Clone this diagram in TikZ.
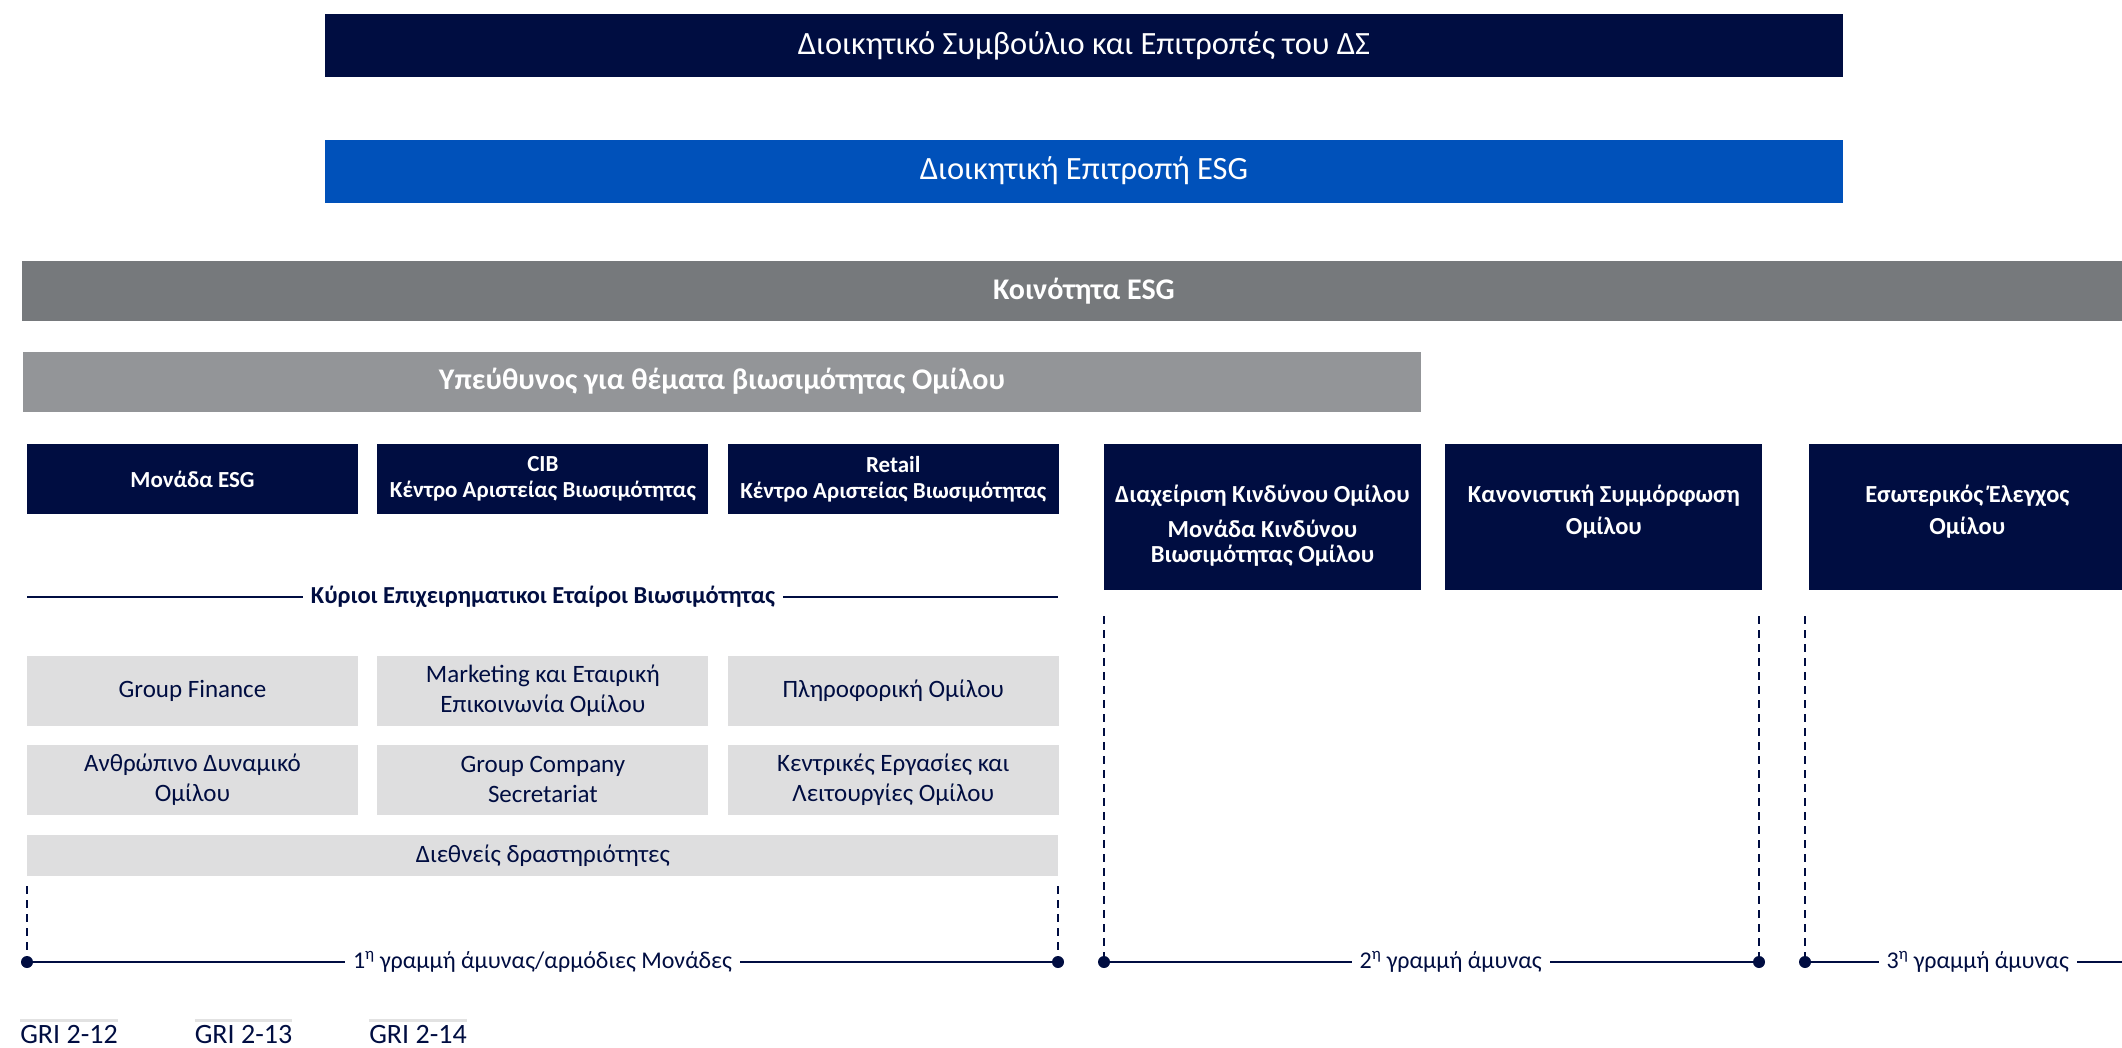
\documentclass[tikz,border=0pt]{standalone}
\usepackage{fontspec}
\setmainfont{Carlito}
\usetikzlibrary{positioning}

\definecolor{navy}{HTML}{000D41}
\definecolor{esgblue}{HTML}{0051BA}
\definecolor{darkgrey}{HTML}{76797C}
\definecolor{midgrey}{HTML}{939598}
\definecolor{lightgrey}{HTML}{DEDEDF}
\definecolor{rulegrey}{HTML}{E2E2E2}

\newcommand{\topalign}[1]{\parbox[c][126pt][t]{310pt}{\centering\rule{0pt}{48pt}#1}}

\begin{document}
\begin{tikzpicture}[
    x=1pt, y=-1pt,
    box/.style={rectangle, inner sep=0pt, align=center},
    topbox/.style={box, text=white, minimum width=1518pt, minimum height=63pt, font=\fontsize{32.5}{36}\selectfont},
    bandbox/.style={box, text=white, minimum height=60pt, font=\fontsize{30}{34}\selectfont\bfseries},
    unit/.style={box, fill=navy, text=white, minimum width=331pt, minimum height=70pt, font=\fontsize{23}{26}\selectfont\bfseries},
    defbox/.style={box, fill=navy, text=white, minimum width=317pt, minimum height=146pt, font=\fontsize{24.5}{25}\selectfont\bfseries},
    partner/.style={box, fill=lightgrey, text=navy, minimum width=331pt, minimum height=70pt, font=\fontsize{25}{30}\selectfont},
    dot/.style={circle, fill=navy, inner sep=0pt, minimum size=12pt},
    thinline/.style={navy, line width=1.5pt},
    dashline/.style={navy, line width=1.5pt, dash pattern=on 8pt off 6pt},
    defline/.style={navy, line width=2pt},
    deflabel/.style={fill=white, text=navy, inner xsep=8pt, font=\fontsize{24}{28}\selectfont},
    gri/.style={text=navy, inner xsep=0pt, inner ysep=4pt, font=\fontsize{28}{32}\selectfont},
    grirule/.style={rulegrey, line width=3pt}
]
\useasboundingbox (0,0) rectangle (2122,1047);

% Board and committees
\node[topbox, fill=navy] (board) at (1084,45.5) {Διοικητικό Συμβούλιο και Επιτροπές του ΔΣ};
\node[topbox, fill=esgblue] (esgcom) at (1084,171) {Διοικητική Επιτροπή ESG};

% ESG community
\node[bandbox, fill=darkgrey, minimum width=2124pt] (community) at (1084,291) {Κοινότητα ESG};
\node[bandbox, fill=midgrey, minimum width=1398pt] (head) at (722,381.5) {Υπεύθυνος για θέματα βιωσιμότητας Ομίλου};

% Units
\node[unit] (esgunit) at (192.5,479) {Μονάδα ESG};
\node[unit, right=19pt of esgunit] (cib) {CIB\\Κέντρο Αριστείας Βιωσιμότητας};
\node[unit, right=19pt of cib] (retail) {Retail\\Κέντρο Αριστείας Βιωσιμότητας};

% Second and third line
\node[defbox] (risk) at (1262.5,517) {\topalign{\rule{0pt}{4pt}Διαχείριση Κινδύνου Ομίλου\\[10pt]Μονάδα Κινδύνου\\Βιωσιμότητας Ομίλου}};
\node[defbox, right=24pt of risk] (compliance) {\topalign{Κανονιστική Συμμόρφωση\\[7pt]Ομίλου}};
\node[defbox, right=46pt of compliance] (audit) {\topalign{Εσωτερικός Έλεγχος\\[7pt]Ομίλου}};

% Key partners
\node[text=navy, inner xsep=8pt, font=\fontsize{24.4}{28}\selectfont\bfseries] (partners) at (543,597) {Κύριοι Επιχειρηματικοι Εταίροι Βιωσιμότητας};
\coordinate (pl) at (27,597);
\coordinate (pr) at (1058,597);
\draw[thinline] (pl) -- (partners);
\draw[thinline] (partners) -- (pr);

\node[partner] (finance) at (192.5,690.5) {Group Finance};
\node[partner, right=19pt of finance] (marketing) {Marketing και Εταιρική\\Επικοινωνία Ομίλου};
\node[partner, right=19pt of marketing] (it) {Πληροφορική Ομίλου};
\node[partner, below=19pt of finance] (hr) {Ανθρώπινο Δυναμικό\\Ομίλου};
\node[partner, right=19pt of hr] (secretariat) {Group Company\\Secretariat};
\node[partner, right=19pt of secretariat] (operations) {Κεντρικές Εργασίες και\\Λειτουργίες Ομίλου};
\node[partner, minimum width=1031pt, minimum height=41pt, below=20pt of secretariat] (intl) {Διεθνείς δραστηριότητες};

% Lines of defence
\node[dot] (l1a) at (27,962) {};
\node[dot] (l1b) at (1058,962) {};
\node[dot] (l2a) at (1104,962) {};
\node[dot] (l2b) at (1759,962) {};
\node[dot] (l3a) at (1805,962) {};
\coordinate (l3b) at (2122,962);
\coordinate (t1a) at (27,886);
\coordinate (t1b) at (1058,886);
\coordinate (t2a) at (1104,616);
\coordinate (t2b) at (1759,616);
\coordinate (t3a) at (1805,616);

\draw[dashline] (t1a) -- (l1a);
\draw[dashline] (t1b) -- (l1b);
\draw[dashline] (t2a) -- (l2a);
\draw[dashline] (t2b) -- (l2b);
\draw[dashline] (t3a) -- (l3a);

\draw[defline] (l1a) -- node[deflabel] {1\textsuperscript{η} γραμμή άμυνας/αρμόδιες Μονάδες} (l1b);
\draw[defline] (l2a) -- node[deflabel, pos=0.53] {2\textsuperscript{η} γραμμή άμυνας} (l2b);
\draw[defline] (l3a) -- node[deflabel, pos=0.536] {3\textsuperscript{η} γραμμή άμυνας} (l3b);

% GRI references
\node[gri] (gri12) at (69,1034) {GRI 2-12};
\node[gri] (gri13) at (243.5,1034) {GRI 2-13};
\node[gri] (gri14) at (418,1034) {GRI 2-14};
\draw[grirule] (gri12.north west) -- (gri12.north east);
\draw[grirule] (gri13.north west) -- (gri13.north east);
\draw[grirule] (gri14.north west) -- (gri14.north east);

\end{tikzpicture}
\end{document}
